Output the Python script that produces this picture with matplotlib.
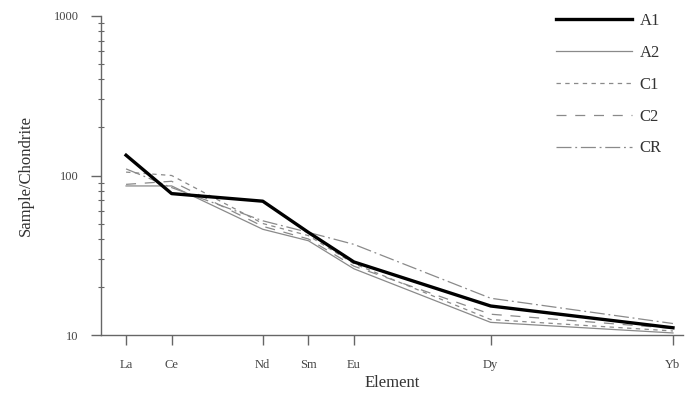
import matplotlib
matplotlib.use("Agg")
import matplotlib.pyplot as plt
from matplotlib.ticker import LogLocator, NullFormatter, FixedLocator

# Rare earth elements, positioned by atomic order (Pm skipped)
elements = ["La", "Ce", "Nd", "Sm", "Eu", "Dy", "Yb"]
positions = [0, 1, 3, 4, 5, 8, 12]

# Chondrite-normalised values
a1 = [134, 77, 69, 44, 28.7, 15.2, 11.1]
a2 = [86, 86, 46, 39, 26, 12, 10.3]
c1 = [105, 100, 50, 42, 28, 12.5, 10.6]
c2 = [88, 92, 48, 40, 27, 13.5, 11.0]
cr = [110, 84, 52, 44, 37, 17, 11.8]

y_ticks = [10, 100, 1000]
y_tick_labels = ["10", "100", "1000"]

plt.rcParams["font.family"] = ["Liberation Serif", "DejaVu Serif"]

fig = plt.figure(figsize=(6.87, 3.96), dpi=100)
ax = fig.add_axes([101 / 687, 61 / 396, 582 / 687, 319 / 396])

grey = "#8a8a8a"
ax.plot(positions, a1, color="black", lw=2.4, label="A1", zorder=5)
ax.plot(positions, a2, color=grey, lw=0.9, ls="-", label="A2")
ax.plot(positions, c1, color=grey, lw=0.9, ls=(0, (3.5, 3.5)), label="C1")
ax.plot(positions, c2, color=grey, lw=0.9, ls=(0, (8, 7)), label="C2")
ax.plot(positions, cr, color=grey, lw=0.9, ls=(0, (12, 3, 1.5, 3)), label="CR")

ax.set_yscale("log")
ax.set_ylim(10, 1000)
ax.set_xlim(-0.55, 12.22)

ax.yaxis.set_major_locator(FixedLocator(y_ticks))
ax.set_yticklabels(y_tick_labels)
ax.yaxis.set_minor_locator(LogLocator(base=10, subs=range(2, 10)))
ax.yaxis.set_minor_formatter(NullFormatter())

ax.set_xticks(positions)
ax.set_xticklabels(elements)

for side in ("top", "right"):
    ax.spines[side].set_visible(False)
for side in ("left", "bottom"):
    ax.spines[side].set_color("#666666")
    ax.spines[side].set_linewidth(1.0)

ax.tick_params(axis="y", which="major", direction="out", length=7, width=1,
               color="#666666", pad=9, labelsize=9, labelcolor="#444444")
ax.tick_params(axis="y", which="minor", direction="inout", length=5, width=0.8,
               color="#666666")
ax.tick_params(axis="x", which="major", direction="out", length=7, width=1,
               color="#666666", pad=10, labelsize=9, labelcolor="#444444")

ax.set_xlabel("Element", fontsize=12, color="#333333", labelpad=3)
ax.set_ylabel("Sample/Chondrite", fontsize=12, color="#333333", labelpad=14)

leg = ax.legend(loc="upper right", bbox_to_anchor=(0.975, 1.03), frameon=False,
                fontsize=12, handlelength=4.6, handletextpad=0.45,
                labelspacing=0.95, borderaxespad=0)
for t in leg.get_texts():
    t.set_color("#333333")

fig.savefig("out.png", dpi=100)
